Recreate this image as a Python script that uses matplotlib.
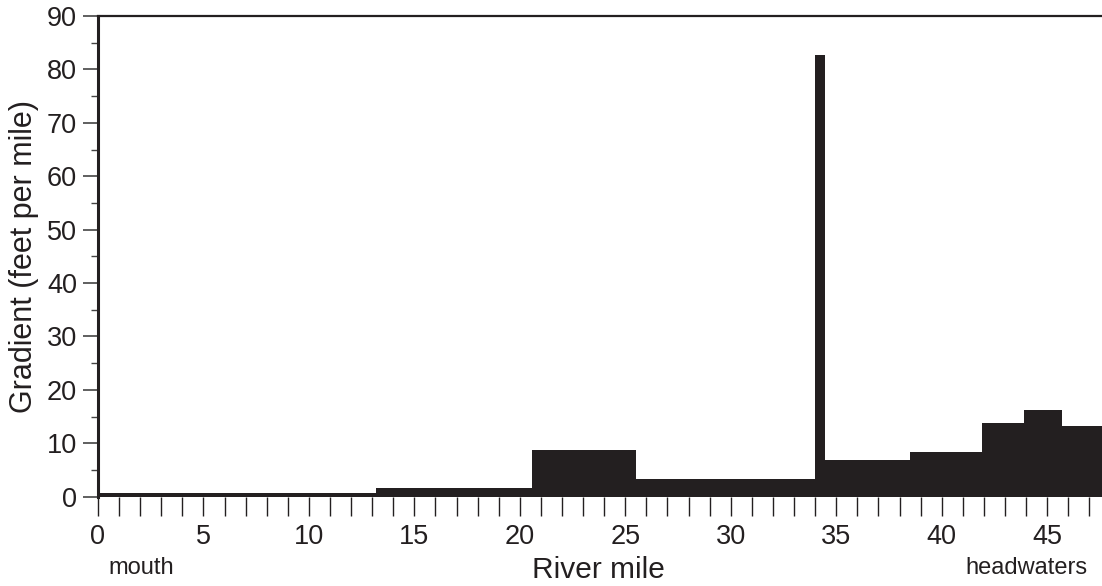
import numpy as np
import matplotlib
matplotlib.use("Agg")
import matplotlib.pyplot as plt
from matplotlib.ticker import MultipleLocator
import matplotlib.transforms as mtransforms

plt.rcParams['font.family'] = ['Liberation Sans', 'DejaVu Sans']

# reach boundaries (river mile) and gradient of each reach (feet per mile)
mile_edges = [0, 13.2, 20.6, 25.5, 34.0, 34.45, 38.5, 41.9, 43.9, 45.7, 47.7]
gradient = [0.6, 1.7, 8.7, 3.3, 82.7, 6.8, 8.4, 13.8, 16.2, 13.2]

ink = '#231f20'

fig = plt.figure(figsize=(11.02, 5.86), dpi=100)
ax = fig.add_axes([0.0889, 0.1524, 0.9111, 0.8203])

# one filled step outline so neighbouring reaches don't leave seams
ax.stairs(gradient, mile_edges, fill=True, color=ink, linewidth=0)

ax.set_xlim(0, 47.6)
ax.set_ylim(0, 90)

ax.xaxis.set_major_locator(MultipleLocator(5))
ax.xaxis.set_minor_locator(MultipleLocator(1))
ax.yaxis.set_major_locator(MultipleLocator(10))
ax.yaxis.set_minor_locator(MultipleLocator(5))

ax.tick_params(axis='x', which='both', direction='out', length=13.5,
               width=1.0, color=ink, labelsize=19.5, labelcolor=ink, pad=6)
ax.tick_params(axis='y', which='major', direction='out', length=11,
               width=1.2, color='#444444', labelsize=19.5, labelcolor=ink, pad=4)
ax.tick_params(axis='y', which='minor', direction='out', length=5,
               width=1.0, color='#444444')

for side in ('right', 'bottom'):
    ax.spines[side].set_visible(False)
ax.spines['left'].set_linewidth(2.2)
ax.spines['left'].set_color(ink)
ax.spines['top'].set_linewidth(1.6)
ax.spines['top'].set_color(ink)

ax.set_ylabel('Gradient (feet per mile)', fontsize=22, color=ink, labelpad=6)

trans = mtransforms.blended_transform_factory(ax.transData, fig.transFigure)
ax.text(23.75, 1 - 578 / 586, 'River mile', transform=trans, fontsize=21.5,
        color=ink, ha='center', va='baseline')
ax.text(0.5, 1 - 568 / 586, 'mouth', transform=trans, fontsize=17,
        color=ink, ha='left', va='center')
ax.text(46.9, 1 - 568 / 586, 'headwaters', transform=trans, fontsize=17,
        color=ink, ha='right', va='center')

fig.savefig('out.png', dpi=100)
